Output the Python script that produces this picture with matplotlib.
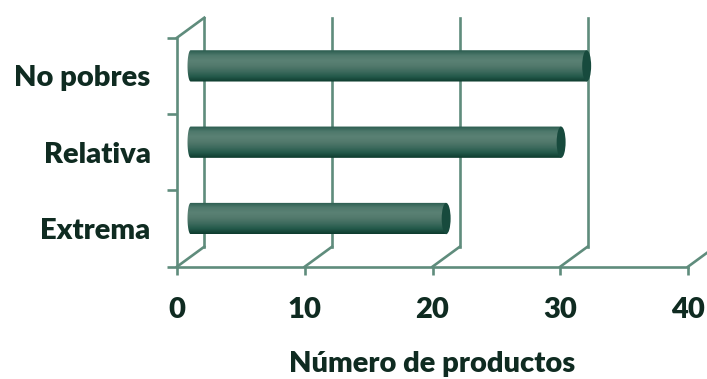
import numpy as np
import matplotlib
matplotlib.use("Agg")
import matplotlib.pyplot as plt
import matplotlib.transforms as mtransforms
from matplotlib.path import Path
from matplotlib.patches import PathPatch, Ellipse

categorias = ["Extrema", "Relativa", "No pobres"]
productos = [20, 29, 31]
xticks = [0, 10, 20, 30, 40]
xlabel = "Número de productos"

linea = "#5f8c7c"
texto = "#0f2b21"
tapa = "#174a3d"
fs = 21
peso = "heavy"

plt.rcParams["font.family"] = ["Lato", "DejaVu Sans"]

fig = plt.figure(figsize=(7.07, 3.79), dpi=100)
ax = fig.add_axes([177 / 707, 1 - 266.7 / 379, (688 - 177) / 707, (266.7 - 37.7) / 379])
ax.set_xlim(0, 40)
ax.set_ylim(-0.5, 2.5)
for s in ax.spines.values():
    s.set_visible(False)

# depth offsets (3d look)
fondo = ax.transData + mtransforms.ScaledTranslation(0.273, 0.20, fig.dpi_scale_trans)
medio = ax.transData + mtransforms.ScaledTranslation(0.1365, 0.10, fig.dpi_scale_trans)
lw = 1.9

# back wall verticals + floor diagonals
inv = ax.transData.inverted()
for v in xticks:
    ax.plot([v, v], [-0.5, 2.5], color=linea, lw=lw, transform=fondo, clip_on=False)
    q1 = inv.transform(fondo.transform((v, -0.5)))
    ax.plot([v, q1[0]], [-0.5, q1[1]], color=linea, lw=lw, clip_on=False)
# left wall front edge and top diagonal
q = inv.transform(fondo.transform((0, 2.5)))
ax.plot([0, q[0]], [2.5, q[1]], color=linea, lw=lw, clip_on=False)
ax.plot([0, 0], [-0.5, 2.5], color=linea, lw=lw, clip_on=False)
ax.plot([0, 40], [-0.5, -0.5], color=linea, lw=lw, clip_on=False)

# ticks
ax.set_xticks(xticks)
ax.set_xticklabels([str(t) for t in xticks])
ax.set_yticks(range(len(categorias)))
ax.set_yticklabels(categorias)
ax.set_yticks([-0.5, 0.5, 1.5, 2.5], minor=True)
ax.tick_params(axis="y", which="major", length=0, pad=19)
ax.tick_params(axis="y", which="minor", length=7, width=lw, color=linea)
ax.tick_params(axis="x", which="major", length=6, width=lw, color=linea, pad=16)
for lab in ax.get_xticklabels() + ax.get_yticklabels():
    lab.set_fontsize(fs)
    lab.set_fontweight(peso)
    lab.set_color(texto)
ax.set_xlabel(xlabel, fontsize=fs, fontweight=peso, color=texto, labelpad=20)

# cylinder bars
alto = 0.41
ancho_tapa = 0.7
grad_cols = ["#2a5c4f", "#4f796c", "#5a8174", "#52796c", "#3e6b5e", "#245a4b", "#0d3b2e"]
cmap = matplotlib.colors.LinearSegmentedColormap.from_list("cil", grad_cols)
grad = np.linspace(0, 1, 64).reshape(-1, 1)
for i, v in enumerate(productos):
    y0, y1 = i - alto / 2, i + alto / 2
    t = np.linspace(np.pi / 2, 3 * np.pi / 2, 30)
    arc = np.column_stack([ancho_tapa / 2 * np.cos(t) * 0.7, i + alto / 2 * np.sin(t)])
    verts = np.vstack([[[v, y0], [v, y1]], arc, [[v, y0]]])
    codes = [Path.MOVETO] + [Path.LINETO] * (len(verts) - 2) + [Path.CLOSEPOLY]
    clip = PathPatch(Path(verts, codes), transform=medio, facecolor="none", edgecolor="none")
    ax.add_patch(clip)
    im = ax.imshow(grad, cmap=cmap, aspect="auto", extent=[-0.5, v, y0, y1],
                   origin="upper", transform=medio, interpolation="bilinear", zorder=3)
    im.set_clip_path(clip)
    ax.add_patch(Ellipse((v, i), ancho_tapa, alto, facecolor=tapa, edgecolor="none",
                         transform=medio, zorder=4))

ax.set_xlim(0, 40)
ax.set_ylim(-0.5, 2.5)
fig.savefig("out.png", dpi=100)
